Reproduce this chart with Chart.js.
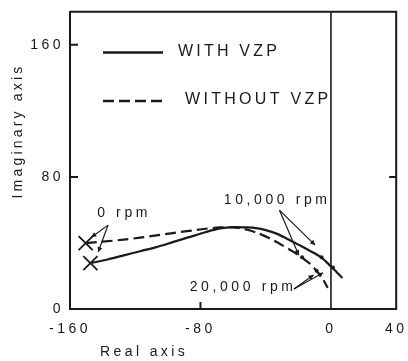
<!DOCTYPE html>
<html><head><meta charset="utf-8">
<script src="https://cdn.jsdelivr.net/npm/chart.js@4.4.1/dist/chart.umd.min.js"></script>
<style>html,body{margin:0;padding:0;background:#fff;}canvas{display:block;}</style>
</head><body>
<canvas id="c" width="408" height="361"></canvas>
<script>
// ---- data ----
const xTicks = [-160, -80, 0, 40];
const yTicks = [0, 80, 160];
const withX = [-147.5, -137, -127, -117, -107, -97, -87, -77, -68, -60, -52, -46, -40, -33, -27, -20, -13, -6, 0, 3.5, 7];
const withY = [27.8, 30, 32.5, 35, 37.5, 40.5, 43.5, 46.5, 48.8, 49.6, 49.4, 49, 47.8, 45.5, 42.6, 39, 35.3, 31.3, 25.8, 22.3, 18.8];
const withoutX = [-150.4, -140, -127, -117, -107, -97, -87, -77, -68, -60, -52, -45, -38, -30, -23, -18, -13, -9, -5, -2];
const withoutY = [39.9, 40.8, 42, 43.2, 44.6, 46, 47.3, 48.6, 49.4, 49.4, 48.2, 46, 43, 38.7, 34.6, 31.3, 27.5, 23.3, 18.2, 12.8];
const startX = [-147.5, -150.4];   // 0 rpm (with, without)
const startY = [27.8, 39.9];
const markX = [-5.8, 1.2, -17.7, -8.8]; // 10,000 / 20,000 rpm marks
const markY = [31.3, 25.2, 31.3, 23.2];
const zeroLineX = [0, 0];
const zeroLineY = [0, 180];
const seriesNames = ['WITH VZP', 'WITHOUT VZP'];
const notes = [
  {text: '0 rpm', x: -143.3, y: 58, from: [-136.7, 50.8], to: [[-146.9, 43.5], [-142.7, 34.5]]},
  {text: '10,000 rpm', x: -65.7, y: 65.9, from: [-31.6, 59.9], to: [[-19.7, 32.6], [-9.7, 38.7]]},
  {text: '20,000 rpm', x: -86.6, y: 13.3, from: [-22.7, 12.1], to: [[-10.7, 20.6], [-4.8, 21.9]]}
];

const ink = '#1a1a1a';
const FONT = '"Liberation Sans", Arial, sans-serif';
const pts = (xs, ys) => xs.map((v, i) => ({x: v, y: ys[i]}));

function txt(ctx, s, x, y, size, align, spacing) {
  ctx.font = size + 'px ' + FONT;
  ctx.letterSpacing = spacing + 'px';
  ctx.fillStyle = ink;
  ctx.textAlign = align;
  ctx.textBaseline = 'middle';
  ctx.fillText(s, x, y);
}
function arrow(ctx, x0, y0, x1, y1) {
  ctx.beginPath(); ctx.moveTo(x0, y0); ctx.lineTo(x1, y1); ctx.stroke();
  const ang = Math.atan2(y1 - y0, x1 - x0), L = 5, W = 2.5;
  ctx.beginPath();
  ctx.moveTo(x1, y1);
  ctx.lineTo(x1 - L * Math.cos(ang) + W * Math.sin(ang), y1 - L * Math.sin(ang) - W * Math.cos(ang));
  ctx.lineTo(x1 - L * Math.cos(ang) - W * Math.sin(ang), y1 - L * Math.sin(ang) + W * Math.cos(ang));
  ctx.closePath(); ctx.fill();
}

const deco = {
  id: 'deco',
  beforeDraw(chart) { chart.ctx.letterSpacing = '3.5px'; },
  afterDraw(chart) {
    const {ctx, chartArea: a, scales: {x, y}} = chart;
    ctx.save();
    ctx.strokeStyle = ink; ctx.fillStyle = ink; ctx.lineWidth = 2;
    ctx.beginPath();
    ctx.moveTo(a.left, a.top); ctx.lineTo(a.right, a.top); ctx.lineTo(a.right, a.bottom);
    ctx.stroke();
    // inward tick marks
    ctx.beginPath();
    [80, 160].forEach(v => { const py = y.getPixelForValue(v); ctx.moveTo(a.left, py); ctx.lineTo(a.left + 8, py); });
    { const py = y.getPixelForValue(80); ctx.moveTo(a.right, py); ctx.lineTo(a.right - 7, py); }
    { const px = x.getPixelForValue(-80); ctx.moveTo(px, a.bottom); ctx.lineTo(px, a.bottom - 7); }
    ctx.stroke();
    // legend
    ctx.lineWidth = 2.5;
    ctx.beginPath(); ctx.moveTo(103, 52.5); ctx.lineTo(163, 52.5); ctx.stroke();
    ctx.setLineDash([11, 5]);
    ctx.beginPath(); ctx.moveTo(103, 101); ctx.lineTo(163, 101); ctx.stroke();
    ctx.setLineDash([]);
    txt(ctx, seriesNames[0], 178, 52, 16, 'left', 3.2);
    txt(ctx, seriesNames[1], 185, 100, 16, 'left', 3.3);
    // annotations
    ctx.lineWidth = 1.2;
    notes.forEach(n => {
      txt(ctx, n.text, x.getPixelForValue(n.x), y.getPixelForValue(n.y), 14, 'left', 3.6);
      const fx = x.getPixelForValue(n.from[0]), fy = y.getPixelForValue(n.from[1]);
      n.to.forEach(t => arrow(ctx, fx, fy, x.getPixelForValue(t[0]), y.getPixelForValue(t[1])));
    });
    // axis titles
    txt(ctx, 'Real axis', 100, 352, 14, 'left', 3.4);
    ctx.save();
    ctx.translate(18, 131); ctx.rotate(-Math.PI / 2);
    txt(ctx, 'Imaginary axis', 0, 0, 14, 'center', 3.2);
    ctx.restore();
    ctx.restore();
  }
};

new Chart(document.getElementById('c'), {
  type: 'scatter',
  data: {
    datasets: [
      {label: seriesNames[0], data: pts(withX, withY), showLine: true, borderColor: ink, borderWidth: 2.2, pointRadius: 0, tension: 0.3, fill: false},
      {label: seriesNames[1], data: pts(withoutX, withoutY), showLine: true, borderColor: ink, borderWidth: 2.2, borderDash: [11, 5], pointRadius: 0, tension: 0.3, fill: false},
      {label: 'start', data: pts(startX, startY), showLine: false, pointStyle: 'crossRot', pointRadius: 10, borderColor: ink, borderWidth: 1.8},
      {label: 'marks', data: pts(markX, markY), showLine: false, pointStyle: 'circle', pointRadius: 2, backgroundColor: ink, borderColor: ink, borderWidth: 0},
      {label: 'zero', data: pts(zeroLineX, zeroLineY), showLine: true, borderColor: ink, borderWidth: 1.6, pointRadius: 0}
    ]
  },
  options: {
    responsive: false,
    animation: false,
    devicePixelRatio: 1,
    layout: {padding: {left: 0, right: 3, top: 11, bottom: 0}},
    plugins: {legend: {display: false}, tooltip: {enabled: false}},
    scales: {
      x: {
        type: 'linear', min: -160, max: 40,
        afterBuildTicks: s => { s.ticks = xTicks.map(v => ({value: v})); },
        afterFit: s => { s.height = 52; s.paddingLeft = 0; s.paddingRight = 0; },
        grid: {display: false, drawTicks: false},
        border: {display: true, color: ink, width: 2},
        ticks: {color: ink, font: {family: FONT, size: 14}, padding: 12, maxRotation: 0, autoSkip: false}
      },
      y: {
        type: 'linear', min: 0, max: 180,
        afterBuildTicks: s => { s.ticks = yTicks.map(v => ({value: v})); },
        afterFit: s => { s.width = 70; s.paddingTop = 0; s.paddingBottom = 0; },
        grid: {display: false, drawTicks: false},
        border: {display: true, color: ink, width: 2},
        ticks: {color: ink, font: {family: FONT, size: 14}, padding: 6}
      }
    }
  },
  plugins: [deco]
});
</script>
</body></html>
